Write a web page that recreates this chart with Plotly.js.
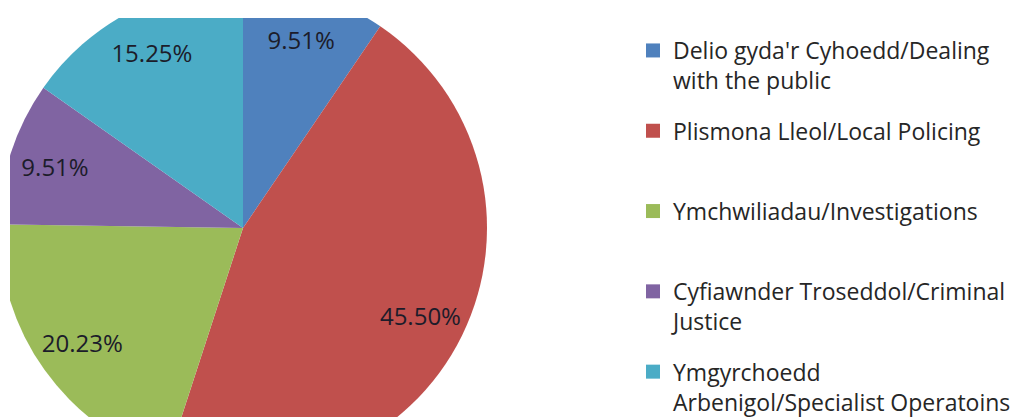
<!DOCTYPE html>
<html>
<head>
<meta charset="utf-8">
<script src="https://cdn.plot.ly/plotly-3.0.1.min.js"></script>
<style>
  html, body { margin:0; padding:0; background:#ffffff; overflow:hidden; width:1019px; height:417px; }
  #clip { position:absolute; left:10px; top:18px; width:1009px; height:399px; overflow:hidden; }
  #plot { position:absolute; left:-11px; top:-34px; width:1030px; height:488px; }
</style>
</head>
<body>
<div id="clip"><div id="plot"></div></div>
<script>
const categories = [
  "Delio gyda'r Cyhoedd/Dealing<br>with the public",
  "Plismona Lleol/Local Policing",
  "Ymchwiliadau/Investigations",
  "Cyfiawnder Troseddol/Criminal<br>Justice",
  "Ymgyrchoedd<br>Arbenigol/Specialist Operatoins"
];
const values = [9.51, 45.50, 20.23, 9.51, 15.25];
const colors = ["#4F81BD", "#C0504D", "#9BBB59", "#8064A2", "#4BACC6"];

const W = 1030, H = 488;
const dom = { x: [0, H / W], y: [0, 1] };

const pieTrace = {
  type: 'pie',
  labels: categories,
  values: values,
  sort: false,
  direction: 'clockwise',
  rotation: 0,
  showlegend: false,
  marker: { colors: colors, line: { width: 0 } },
  textinfo: 'none',
  hoverinfo: 'label+percent',
  domain: dom
};
// same data on a transparent ring: places the percentage labels toward the rim, as in the original
const labelTrace = {
  type: 'pie',
  labels: categories,
  values: values,
  sort: false,
  direction: 'clockwise',
  rotation: 0,
  hole: 0.62,
  showlegend: false,
  marker: { colors: colors.map(function () { return 'rgba(0,0,0,0)'; }), line: { width: 0 } },
  texttemplate: '%{percent:.2%}',
  textposition: 'inside',
  insidetextorientation: 'horizontal',
  textfont: { family: 'Open Sans, sans-serif', size: 24, color: '#1c1c2a' },
  hoverinfo: 'skip',
  domain: dom
};
// legend entries (one group each, so the entries can be evenly spaced like the original)
const legendTraces = categories.map(function (c, i) {
  const name = c.indexOf('<br>') < 0 ? c + '<br> ' : c;
  return {
    type: 'scatter', mode: 'markers', x: [null], y: [null],
    name: name, legendgroup: 'g' + i, showlegend: true,
    marker: { symbol: 'square', size: 14, color: colors[i] },
    hoverinfo: 'skip'
  };
});

const layout = {
  width: W, height: H,
  margin: { l: 0, r: 0, t: 0, b: 0 },
  paper_bgcolor: '#ffffff',
  plot_bgcolor: 'rgba(0,0,0,0)',
  xaxis: { visible: false, domain: [0.99, 1] },
  yaxis: { visible: false, domain: [0.99, 1] },
  showlegend: true,
  legend: {
    x: (633 + 1) / W, xanchor: 'left',
    y: 1 - (29 + 16) / H, yanchor: 'top',
    valign: 'top',
    traceorder: 'grouped',
    tracegroupgap: 17.5,
    font: { family: 'Open Sans, sans-serif', size: 23, color: '#262626' },
    bgcolor: 'rgba(0,0,0,0)'
  }
};
Plotly.newPlot('plot', [pieTrace, labelTrace].concat(legendTraces), layout, { displayModeBar: false, staticPlot: true });
</script>
</body>
</html>
